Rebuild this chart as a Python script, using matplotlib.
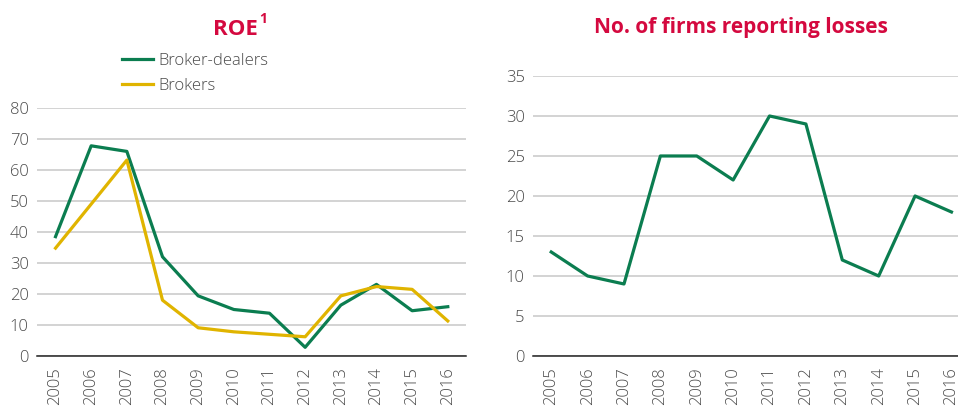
import matplotlib.pyplot as plt
import numpy as np

years = ['2005', '2006', '2007', '2008', '2009', '2010',
         '2011', '2012', '2013', '2014', '2015', '2016']

# ROE, %
roe_broker_dealers = [38.5, 67.8, 66.0, 32.0, 19.4, 15.0, 13.8, 2.8, 16.4, 23.1, 14.6, 15.9]
roe_brokers = [34.8, 49.0, 63.2, 18.0, 9.1, 7.8, 7.0, 6.2, 19.4, 22.4, 21.5, 11.3]

# число фирм с убытками
firms_losses = [13, 10, 9, 25, 25, 22, 30, 29, 12, 10, 20, 18]

GREEN = '#0b7d50'
YELLOW = '#e0b400'
RED = '#d4093f'
TXT = '#4a4a4a'

plt.rcParams['font.family'] = ['Open Sans', 'DejaVu Sans']

fig = plt.figure(figsize=(9.58, 4.17), dpi=100)
ax1 = fig.add_axes([0.0386, 0.1463, 0.4478, 0.5947])
ax2 = fig.add_axes([0.5564, 0.1463, 0.4436, 0.6715])

x = np.arange(len(years))


def style_axis(ax, ymax, step):
    ax.set_ylim(0, ymax)
    ax.set_yticks(np.arange(0, ymax + 0.1, step))
    ax.set_xticks(x)
    ax.set_xticklabels(years, rotation=90)
    ax.grid(True, axis='y', color='#c8c8c8', linewidth=1.1)
    ax.set_axisbelow(True)
    for side in ['top', 'right', 'left']:
        ax.spines[side].set_visible(False)
    ax.spines['bottom'].set_color('#222222')
    ax.spines['bottom'].set_linewidth(1.1)
    ax.tick_params(axis='both', length=0, labelsize=12, colors=TXT, pad=6)
    ax.tick_params(axis='x', pad=8)
    for lbl in ax.get_xticklabels() + ax.get_yticklabels():
        lbl.set_fontweight(300)


# Левый график: ROE
ax1.plot(x, roe_broker_dealers, color=GREEN, linewidth=2.3, label='Broker-dealers')
ax1.plot(x, roe_brokers, color=YELLOW, linewidth=2.3, label='Brokers')
ax1.set_xlim(-0.52, 11.51)
style_axis(ax1, 80, 10)
leg = ax1.legend(loc='upper left', bbox_to_anchor=(0.12, 0.89), bbox_transform=fig.transFigure,
                 frameon=False, prop={'size': 12, 'weight': 300}, handlelength=1.9,
                 handletextpad=0.3, labelspacing=0.55, labelcolor=TXT, borderaxespad=0)

# Правый график: число фирм
ax2.plot(x, firms_losses, color=GREEN, linewidth=2.3)
ax2.set_xlim(-0.5, 11.18)
style_axis(ax2, 35, 5)

fig.text(0.246, 0.93, 'ROE', color=RED, fontsize=16, fontweight='bold', ha='center', va='center')
fig.text(0.2705, 0.955, '1', color=RED, fontsize=10, fontweight='bold', ha='left', va='center')
fig.text(0.773, 0.935, 'No. of firms reporting losses', color=RED, fontsize=15,
         fontweight='bold', ha='center', va='center')

fig.savefig('out.png', dpi=100)
